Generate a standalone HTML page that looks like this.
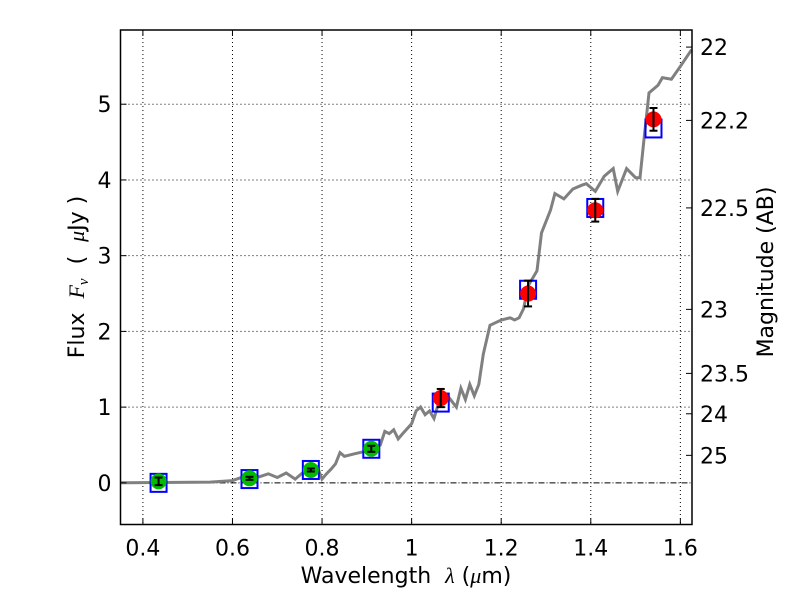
<!DOCTYPE html>
<html><head><meta charset="utf-8"><style>
body{margin:0;background:#fff;}
svg text{font-family:"DejaVu Sans","Liberation Sans",sans-serif;}
</style></head><body>
<svg id="chart" width="800" height="600" xmlns="http://www.w3.org/2000/svg">
<rect width="800" height="600" fill="#fff"/>
<g id="grid"></g>
<g id="marks"></g>
<g id="axes"></g>
</svg>
<script>
const xTicks=[0.4,0.6,0.8,1.0,1.2,1.4,1.6];
const xTickLabels=["0.4","0.6","0.8","1","1.2","1.4","1.6"];
const yTicks=[0,1,2,3,4,5];
const magTicks=[22,22.2,22.5,23,23.5,24,25];
const magLabels=["22","22.2","22.5","23","23.5","24","25"];
const specX=[0.35,0.55,0.6,0.62,0.64,0.66,0.68,0.7,0.72,0.74,0.76,0.78,0.79,0.8,0.81,0.82,0.83,0.84,0.85,0.87,0.9,0.92,0.93,0.94,0.95,0.96,0.97,0.98,1.0,1.01,1.02,1.03,1.04,1.05,1.06,1.08,1.1,1.11,1.12,1.13,1.14,1.15,1.16,1.175,1.2,1.22,1.23,1.24,1.25,1.26,1.28,1.29,1.31,1.32,1.34,1.36,1.38,1.39,1.41,1.43,1.45,1.46,1.48,1.5,1.51,1.52,1.53,1.55,1.56,1.58,1.6,1.625];
const specY=[0,0.01,0.03,0.07,0.1,0.08,0.12,0.07,0.13,0.05,0.15,0.12,0.2,0.05,0.12,0.18,0.25,0.4,0.35,0.38,0.42,0.47,0.5,0.68,0.65,0.7,0.58,0.65,0.78,0.95,1.0,0.9,0.95,0.85,1.05,1.15,1.0,1.25,1.1,1.3,1.15,1.3,1.7,2.08,2.15,2.18,2.15,2.18,2.3,2.6,2.8,3.3,3.6,3.82,3.75,3.88,3.93,3.95,3.85,4.05,4.15,3.85,4.15,4.03,4.03,4.6,5.15,5.25,5.35,5.33,5.5,5.72];
const modelX=[0.435,0.638,0.775,0.91,1.065,1.26,1.41,1.54];
const modelY=[0.0,0.05,0.17,0.45,1.06,2.55,3.63,4.68];
const greenX=[0.435,0.638,0.775,0.91];
const greenY=[0.02,0.06,0.17,0.45];
const greenErr=[0.05,0.02,0.02,0.04];
const redX=[1.065,1.26,1.41,1.54];
const redY=[1.12,2.5,3.6,4.8];
const redErr=[0.12,0.17,0.15,0.15];

const L=120.5,R=692,T=30,B=524.5;
const X0=0.35,X1=1.626,Y0=-0.55,Y1=5.98;
const sx=v=>L+(v-X0)/(X1-X0)*(R-L);
const sy=v=>B-(v-Y0)/(Y1-Y0)*(B-T);
const NS="http://www.w3.org/2000/svg";
function mk(parent,tag,attrs){const e=document.createElementNS(NS,tag);for(const k in attrs)e.setAttribute(k,attrs[k]);document.getElementById(parent).appendChild(e);return e;}

xTicks.forEach((v,i)=>{
 const g=mk('grid','line',{x1:sx(v),x2:sx(v),y1:T,y2:B,stroke:'#000','stroke-width':1,'stroke-dasharray':'1,3'});
 
 
 const t=mk('axes','text',{x:sx(v),y:B+31,'text-anchor':'middle','font-size':22});
 t.textContent=xTickLabels[i];
 
 
 mk('axes','line',{x1:sx(v),x2:sx(v),y1:B,y2:B-6,stroke:'#000'});
 mk('axes','line',{x1:sx(v),x2:sx(v),y1:T,y2:T+6,stroke:'#000'});
});
yTicks.forEach(v=>{
 if(v!==0){const g=mk('grid','line',{x1:L,x2:R,y1:sy(v),y2:sy(v),stroke:'#000','stroke-width':1,'stroke-dasharray':'1,3'});
 
 }
 const t=mk('axes','text',{x:L-9,y:sy(v)+8,'text-anchor':'end','font-size':22});
 t.textContent=String(v);
 
 
 mk('axes','line',{x1:L,x2:L+6,y1:sy(v),y2:sy(v),stroke:'#000'});
});
const zl=mk('grid','line',{x1:L,x2:R,y1:sy(0),y2:sy(0),stroke:'#000','stroke-width':1,'stroke-dasharray':'6,2,1,2'});


magTicks.forEach((m,i)=>{
 const f=Math.pow(10,(23.9-m)/2.5);
 mk('axes','line',{x1:R-6,x2:R,y1:sy(f),y2:sy(f),stroke:'#000'});
 const t=mk('axes','text',{x:R+8,y:sy(f)+8,'font-size':22});
 t.textContent=magLabels[i];
 
 
});

const pts=specX.map((x,i)=>sx(x).toFixed(1)+','+sy(specY[i]).toFixed(1)).join(' ');
const sp=mk('marks','polyline',{points:pts,fill:'none',stroke:'#808080','stroke-width':3});



modelX.forEach((x,i)=>{
 const r=mk('marks','rect',{x:sx(x)-8,y:sy(modelY[i])-9,width:16,height:18,fill:'none',stroke:'#0000ff','stroke-width':2});
 
 
});
function pts2(xs,ys,es,col,name){
 xs.forEach((x,i)=>{
  const c=mk('marks','circle',{cx:sx(x),cy:sy(ys[i]),r:8,fill:col});
  
  
  const a=sy(ys[i]+es[i]),b=sy(ys[i]-es[i]);
  mk('marks','line',{x1:sx(x),x2:sx(x),y1:a,y2:b,stroke:'#000','stroke-width':2});
  mk('marks','line',{x1:sx(x)-4,x2:sx(x)+4,y1:a,y2:a,stroke:'#000','stroke-width':2});
  mk('marks','line',{x1:sx(x)-4,x2:sx(x)+4,y1:b,y2:b,stroke:'#000','stroke-width':2});
 });
}
pts2(greenX,greenY,greenErr,'#00bb00','observed-point-green');
pts2(redX,redY,redErr,'#ff0000','observed-point-red');

const fr=mk('axes','rect',{x:L,y:T,width:R-L,height:B-T,fill:'none',stroke:'#000','stroke-width':1.5});


const xl=mk('axes','text',{x:406,y:583,'text-anchor':'middle','font-size':22});
xl.innerHTML='Wavelength\u00a0\u00a0<tspan font-style="italic" font-family="Liberation Serif">λ</tspan> (<tspan font-style="italic" font-family="Liberation Serif">μ</tspan>m)';


const yl=mk('axes','text',{transform:'translate(84,277) rotate(-90)','text-anchor':'middle','font-size':22});
yl.innerHTML='Flux\u00a0\u00a0<tspan font-style="italic" font-family="Liberation Serif">F</tspan><tspan font-style="italic" font-family="Liberation Serif" font-size="15" dy="4">ν</tspan><tspan dy="-4">\u00a0\u00a0(\u00a0\u00a0</tspan><tspan font-style="italic" font-family="Liberation Serif">μ</tspan>Jy\u00a0)';


const ml=mk('axes','text',{transform:'translate(773,272) rotate(-90)','text-anchor':'middle','font-size':22});
ml.textContent='Magnitude (AB)';


</script>
</body></html>
